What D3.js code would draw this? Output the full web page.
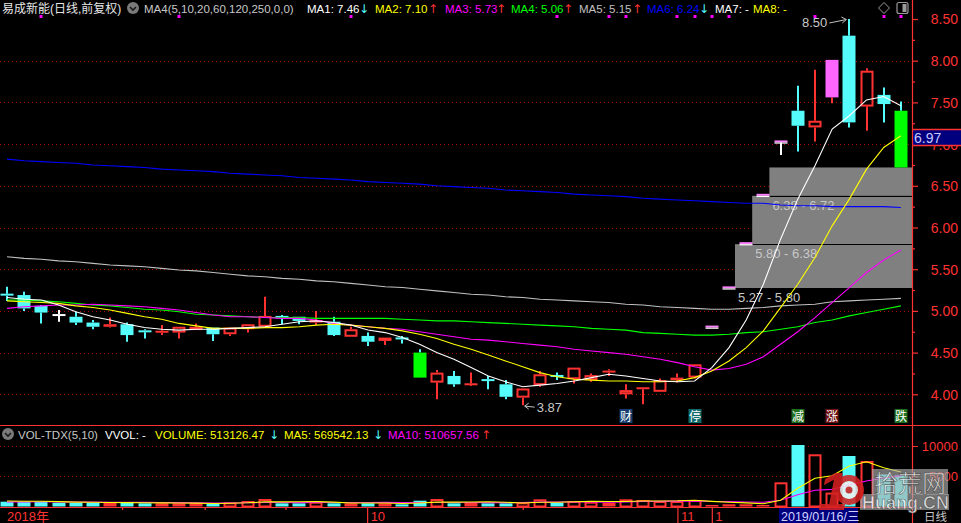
<!DOCTYPE html>
<html><head><meta charset="utf-8">
<script src="https://cdn.jsdelivr.net/npm/d3@7"></script>
<style>html,body{margin:0;padding:0;background:#000;overflow:hidden}svg{display:block}</style>
</head><body><svg id="c" width="961" height="523"></svg>
<script>
// ---------------- DATA ----------------
const stockName = "易成新能(日线,前复权)";
const indicatorName = "MA4(5,10,20,60,120,250,0,0)";
const open  = [5.20,5.19,5.06,4.95,4.93,4.86,4.81,4.84,4.76,4.74, 4.74,4.77,4.80,4.72,4.78,4.81,4.94,4.93,4.86,4.87, 4.69,4.70,4.64,4.675,4.50,4.14,4.22,4.11,4.175,4.12, 3.96,4.11,4.225,4.18,4.17,4.265,4.00,4.065,4.03,4.17, 4.20,4.80,5.27,5.80,6.38,7.02,7.40,7.20,7.56,8.30, 7.45,7.59,7.40];
const high  = [5.29,5.23,5.07,5.01,4.99,4.89,4.92,4.86,4.78,4.83, 4.81,4.85,4.80,4.80,4.84,5.17,4.95,4.93,5.00,4.93, 4.81,4.74,4.68,4.70,4.54,4.29,4.28,4.26,4.22,4.17, 4.07,4.28,4.26,4.32,4.25,4.30,4.12,4.08,4.19,4.25, 4.36,4.80,5.27,5.80,6.38,7.02,7.70,7.89,8.01,8.50, 7.91,7.68,7.51];
const low   = [5.12,5.00,4.85,4.87,4.83,4.78,4.80,4.63,4.67,4.71, 4.67,4.77,4.64,4.70,4.74,4.80,4.84,4.84,4.83,4.70, 4.69,4.58,4.59,4.61,4.20,3.94,4.09,4.10,4.06,3.94, 3.87,4.09,4.17,4.13,4.15,4.22,3.95,3.88,4.03,4.14, 4.19,4.80,5.27,5.80,6.38,6.87,6.91,7.03,7.49,7.20, 7.16,7.26,6.72];
const close = [5.19,5.03,4.98,4.95,4.86,4.81,4.84,4.71,4.75,4.76, 4.81,4.81,4.72,4.80,4.84,4.94,4.91,4.88,4.89,4.71, 4.78,4.63,4.68,4.665,4.20,4.26,4.12,4.13,4.165,3.97, 4.07,4.24,4.215,4.32,4.23,4.28,4.05,4.08,4.17,4.20, 4.36,4.80,5.27,5.80,6.38,7.02,7.22,7.28,8.01,7.26, 7.88,7.48,6.72];
const limitFlag = ["","","","","","","","","","", "","","","","","","","","","", "","","","","D","","","","","", "","","","","","","","","","", "","U","U","U","U","U","","","U","", "","","D"];
const volume = [793,793,793,628,628,628,628,694,529,529, 529,529,413,694,909,1240,529,529,793,529, 529,529,529,364,959,1240,529,628,529,529, 694,1190,628,909,793,628,1190,1074,909,909, 1074,248,364,364,248,4000,10166,8629,2300,8348, 7521,5300,5131];
const ma1 = [5.16,5.14,5.13,5.07,4.99,4.93,4.89,4.84,4.80,4.78, 4.77,4.78,4.78,4.79,4.80,4.81,4.84,4.87,4.88,4.86, 4.83,4.77,4.74,4.68,4.60,4.50,4.42,4.32,4.22,4.15, 4.09,4.11,4.13,4.16,4.20,4.24,4.22,4.19,4.16,4.15, 4.16,4.32,4.56,4.89,5.32,5.86,6.34,6.74,7.18,7.34, 7.53,7.57,7.46];
const ma2 = [5.12,5.11,5.10,5.09,5.06,5.04,5.01,4.97,4.93,4.90, 4.85,4.82,4.79,4.79,4.79,4.80,4.80,4.81,4.83,4.84, 4.83,4.81,4.79,4.76,4.72,4.67,4.60,4.54,4.47,4.40, 4.33,4.26,4.21,4.18,4.17,4.16,4.16,4.15,4.15,4.16, 4.20,4.28,4.40,4.56,4.76,5.04,5.32,5.64,6.02,6.34, 6.70,6.96,7.10];
const ma3 = [5.03,5.05,5.06,5.07,5.07,5.08,5.07,5.06,5.05,5.03, 5.01,4.98,4.95,4.93,4.93,4.92,4.91,4.91,4.89,4.85, 4.83,4.81,4.79,4.78,4.75,4.72,4.69,4.66,4.65,4.63, 4.61,4.59,4.57,4.54,4.52,4.50,4.48,4.45,4.42,4.38, 4.33,4.29,4.31,4.36,4.45,4.60,4.75,4.92,5.10,5.28, 5.46,5.61,5.73];
const ma4 = [5.13,5.13,5.12,5.11,5.09,5.07,5.06,5.04,5.02,5.01, 4.99,4.96,4.95,4.94,4.93,4.92,4.92,4.92,4.91,4.91, 4.91,4.91,4.91,4.90,4.89,4.88,4.88,4.87,4.86,4.85, 4.84,4.83,4.82,4.81,4.79,4.78,4.77,4.74,4.73,4.72, 4.71,4.71,4.72,4.74,4.75,4.78,4.81,4.86,4.89,4.94, 4.98,5.02,5.06];
const ma5 = [5.65,5.63,5.62,5.60,5.59,5.57,5.55,5.54,5.53,5.51, 5.49,5.48,5.46,5.44,5.42,5.41,5.39,5.38,5.36,5.35, 5.33,5.31,5.29,5.28,5.26,5.24,5.22,5.20,5.19,5.17, 5.16,5.14,5.13,5.12,5.11,5.10,5.08,5.07,5.05,5.04, 5.03,5.02,5.02,5.03,5.04,5.06,5.07,5.08,5.11,5.12, 5.13,5.14,5.15];
const ma6 = [6.82,6.80,6.79,6.78,6.77,6.75,6.74,6.73,6.72,6.70, 6.69,6.68,6.67,6.65,6.64,6.63,6.62,6.60,6.59,6.58, 6.57,6.55,6.54,6.53,6.52,6.50,6.49,6.48,6.47,6.45, 6.44,6.43,6.42,6.40,6.39,6.38,6.37,6.35,6.34,6.33, 6.32,6.31,6.30,6.29,6.29,6.27,6.26,6.26,6.25,6.25, 6.25,6.25,6.24];
const volMa5 = [900,880,860,800,727,694,661,641,621,602, 582,562,506,539,615,757,757,780,800,724, 582,582,582,496,582,724,724,744,777,691, 582,714,714,790,843,830,830,919,919,942, 1031,843,701,592,460,1045,3028,4681,5069,6689, 7393,6420,5695];
const volMa10 = [760,770,780,760,740,720,700,690,680,664, 638,612,574,580,608,669,660,643,669,669, 669,669,681,648,653,653,653,663,637,637, 653,719,729,784,767,706,772,816,854,892, 930,836,810,755,701,1038,1936,2691,2830,3574, 4219,4724,5107];
const volHeaderValues = [513126.47, 569542.13, 510657.56];
const volHeaderUp = [false, false, true];
const priceTicks = [8.5,8.0,7.5,7.0,6.5,6.0,5.5,5.0,4.5,4.0];
const priceMinorTicks = [8.25,7.75,7.25,6.75,6.25,5.75,5.25,4.75,4.25];
const volTicks = [10000,5000];
const gapLow = [5.27,5.80,6.38];
const gapHigh = [5.80,6.38,6.72];
const gapStart = [42,43,44];
const eventIdx = [36,40,46,48,52];
const eventText = ["财","停","减","涨","跌"];
const eventBg = ["#163d6e","#0f6b6b","#1e6e1e","#6e1010","#1e6e1e"];
const markerIdx = [2,10,20,32,35,36,39,40,41,42,47,51,52];
const shortTickIdx = [6.7,11.5,16.2,30];
const monthTickIdx = [20.95,39,41];
const monthLabels = ["10","11","1"];
const yearLabel = "2018年";
const cursorDate = "2019/01/16/三";
const curPrice = 6.97;
const periodLabel = "日线";

// ---------------- SETUP ----------------
const RED = "#ff3232", CYAN = "#54fcfc", GRID = "#a00000";
const FONT = "'Liberation Sans','Noto Sans CJK SC',Arial,sans-serif";
const HF = 11.5;
const svg = d3.select("#c");
svg.append("rect").attr("width",961).attr("height",523).attr("fill","#000");
const N = close.length;
const x = d3.scaleLinear().domain([0, N-1]).range([7, 900.9]);
const y = d3.scaleLinear().domain([4, 8.5]).range([394.3, 19]);
const yv = d3.scaleLinear().domain([0, 10000]).range([506.5, 446]);
const AXX = 912;

function txt(g, tx, ty, s, col, size, anchor, fam) {
  return g.append("text").attr("x",tx).attr("y",ty).text(s)
    .attr("fill",col).attr("font-size",size||12).attr("font-family",fam||FONT)
    .attr("text-anchor",anchor||"start");
}

// grid
const gGrid = svg.append("g");
gGrid.selectAll("line.pg").data(priceTicks.filter(d=>d<8.5)).enter().append("line")
  .attr("x1",0).attr("x2",AXX).attr("y1",d=>Math.round(y(d))+0.5).attr("y2",d=>Math.round(y(d))+0.5)
  .attr("stroke",GRID).attr("stroke-dasharray","1,3");
gGrid.selectAll("line.vg").data(volTicks).enter().append("line")
  .attr("x1",0).attr("x2",AXX).attr("y1",d=>Math.round(yv(d))+0.5).attr("y2",d=>Math.round(yv(d))+0.5)
  .attr("stroke",GRID).attr("stroke-dasharray","1,3");

// gap boxes
const gGap = svg.append("g");
gapLow.forEach((lo,k)=>{
  const x0 = x(gapStart[k]) + 6;
  gGap.append("rect").attr("x",x0).attr("y",y(gapHigh[k])).attr("width",AXX-x0)
    .attr("height",y(lo)-y(gapHigh[k])).attr("fill","#808080");
  gGap.append("line").attr("x1",x0).attr("x2",AXX).attr("y1",Math.round(y(lo))+0.5).attr("y2",Math.round(y(lo))+0.5)
    .attr("stroke","#000").attr("stroke-width",1.2);
});
gapLow.forEach((lo,k)=>{
  const x0 = x(gapStart[k]) + 6;
  txt(gGap, x0+3, y(lo)+14, lo.toFixed(2)+" - "+gapHigh[k].toFixed(2), "#c8c8c8", 13);
});

// candles
const gC = svg.append("g");
function vline(g, cx, y1, y2, col) {
  if (Math.abs(y2-y1) < 0.5) return;
  g.append("line").attr("x1",cx).attr("x2",cx).attr("y1",y1).attr("y2",y2).attr("stroke",col).attr("stroke-width",2);
}
for (let i=0;i<N;i++) {
  const o=open[i],h=high[i],l=low[i],c=close[i],f=limitFlag[i];
  const cx = Math.round(x(i)), hw = 6.5;
  const yo=y(o), yc=y(c), yh=y(h), yl=y(l);
  if (f==="U" && o===c) {
    vline(gC, cx, yc, yl, "#ffffff");
    gC.append("rect").attr("x",cx-hw).attr("y",yc-2).attr("width",hw*2).attr("height",2).attr("fill","#ff80ff");
    gC.append("rect").attr("x",cx-hw).attr("y",yc).attr("width",hw*2).attr("height",1.2).attr("fill","#ffffff");
    continue;
  }
  let col, filled, wick;
  if (f==="U") { col="#ff66ff"; filled=true; wick=RED; }
  else if (f==="D") { col="#00ff00"; filled=true; wick=CYAN; }
  else if (c>o) { col=RED; filled=false; wick=RED; }
  else if (c<o) { col=CYAN; filled=true; wick=CYAN; }
  else { col="#ffffff"; filled=true; wick="#ffffff"; }
  let top=Math.min(yo,yc), bot=Math.max(yo,yc);
  if (bot-top < 2) { const m=(top+bot)/2; top=m-1; bot=m+1; }
  vline(gC, cx, yh, top, wick);
  vline(gC, cx, bot, yl, wick);
  if (!filled && bot-top > 4) {
    gC.append("rect").attr("x",cx-hw+1).attr("y",top+1).attr("width",hw*2-2).attr("height",bot-top-2)
      .attr("fill","#000").attr("stroke",col).attr("stroke-width",2);
  } else {
    gC.append("rect").attr("x",cx-hw).attr("y",top).attr("width",hw*2).attr("height",bot-top).attr("fill",col);
  }
}

// moving average lines
const maList = [[ma6,"#0000ff"],[ma5,"#c0c0c0"],[ma4,"#00ff00"],[ma3,"#ff00ff"],[ma2,"#ffff00"],[ma1,"#ffffff"]];
const lineGen = d3.line().x((d,i)=>x(i)).y(d=>y(d));
maList.forEach(([arr,col])=>{
  svg.append("path").attr("d",lineGen(arr)).attr("fill","none").attr("stroke",col).attr("stroke-width",1.1);
});

// high / low annotations
const hiI = d3.maxIndex(high), loI = d3.minIndex(low);
const gA = svg.append("g").attr("stroke","#c0c0c0").attr("fill","none").attr("stroke-width",1);
{
  const hx = x(hiI), hy = y(high[hiI]);
  txt(svg, hx-22, hy+8, high[hiI].toFixed(2), "#c8c8c8", 13, "end");
  gA.append("path").attr("d",`M${hx-20},${hy+4} L${hx-3},${hy+0.5}`);
  gA.append("path").attr("d",`M${hx-8},${hy-2} L${hx-3},${hy+0.5} L${hx-7},${hy+4}`);
  const lx = x(loI), ly = y(low[loI]);
  gA.append("path").attr("d",`M${lx+2},${ly+1} L${lx+12},${ly+2}`);
  gA.append("path").attr("d",`M${lx+6},${ly-2} L${lx+2},${ly+1} L${lx+6},${ly+4}`);
  txt(svg, lx+14, ly+7, low[loI].toFixed(2), "#c8c8c8", 13);
}

// top event markers
svg.selectAll("rect.mk").data(markerIdx).enter().append("rect")
  .attr("x",d=>Math.round(x(d))-1.5).attr("y",15).attr("width",3).attr("height",3).attr("fill","#ff00ff");

// bottom event tags
eventIdx.forEach((idx,k)=>{
  const cx = Math.round(x(idx));
  svg.append("rect").attr("x",cx-6.5).attr("y",409).attr("width",13).attr("height",14).attr("fill",eventBg[k]);
  txt(svg, cx, 421, eventText[k], "#ffffff", 12, "middle", "'Noto Sans CJK SC',sans-serif");
});

// price axis
const gPA = svg.append("g").attr("transform",`translate(${AXX},0)`);
gPA.call(d3.axisRight(y).tickValues(priceTicks).tickSize(6).tickFormat(d3.format(".2f")));
gPA.append("g").call(d3.axisRight(y).tickValues(priceMinorTicks).tickSize(3).tickFormat(""));
gPA.selectAll(".domain").remove();
gPA.selectAll(".tick line").attr("stroke",RED).attr("stroke-width",1.2);
gPA.selectAll(".tick text").attr("fill",RED).attr("font-size",14).attr("font-family",FONT)
  .attr("text-anchor","end").attr("x",46).attr("dy","0.35em");

// current price box
{
  const cy = y(curPrice);
  svg.append("rect").attr("x",AXX).attr("y",cy-17).attr("width",961-AXX).attr("height",16).attr("fill","#00007f");
  svg.append("line").attr("x1",AXX).attr("x2",961).attr("y1",cy-17).attr("y2",cy-17).attr("stroke",RED).attr("stroke-width",1.5);
  svg.append("line").attr("x1",AXX).attr("x2",961).attr("y1",cy-1).attr("y2",cy-1).attr("stroke",RED).attr("stroke-width",1.5);
  txt(svg, AXX+2, cy-4, curPrice.toFixed(2), "#c8c8ff", 14);
}

// panel borders
svg.append("line").attr("x1",AXX+0.5).attr("x2",AXX+0.5).attr("y1",0).attr("y2",523).attr("stroke",RED).attr("stroke-width",1.2);
svg.append("line").attr("x1",0).attr("x2",961).attr("y1",425.5).attr("y2",425.5).attr("stroke",RED).attr("stroke-width",1.2);
svg.append("line").attr("x1",0).attr("x2",AXX).attr("y1",507.5).attr("y2",507.5).attr("stroke",RED).attr("stroke-width",1);

// volume bars
const gV = svg.append("g");
for (let i=0;i<N;i++) {
  const cx = Math.round(x(i)), hw=6.5;
  let up;
  if (close[i]>open[i]) up=true; else if (close[i]<open[i]) up=false; else up = i>0 ? close[i]>=close[i-1] : true;
  const top = yv(volume[i]), base = yv(0);
  if (up) {
    if (base-top > 4) gV.append("rect").attr("x",cx-hw+1).attr("y",top+1).attr("width",hw*2-2).attr("height",base-top-1)
      .attr("fill","#000").attr("stroke",RED).attr("stroke-width",2);
    else gV.append("rect").attr("x",cx-hw).attr("y",top).attr("width",hw*2).attr("height",base-top).attr("fill",RED);
  } else {
    gV.append("rect").attr("x",cx-hw).attr("y",top).attr("width",hw*2).attr("height",base-top).attr("fill",CYAN);
  }
}
const vLine = d3.line().x((d,i)=>x(i)).y(d=>yv(d));
svg.append("path").attr("d",vLine(volMa10)).attr("fill","none").attr("stroke","#ff00ff").attr("stroke-width",1.1);
svg.append("path").attr("d",vLine(volMa5)).attr("fill","none").attr("stroke","#ffff00").attr("stroke-width",1.1);

// volume axis
const gVA = svg.append("g").attr("transform",`translate(${AXX},0)`);
gVA.call(d3.axisRight(yv).tickValues(volTicks).tickSize(6).tickFormat(d3.format("d")));
gVA.selectAll(".domain").remove();
gVA.selectAll(".tick line").attr("stroke",RED);
gVA.selectAll(".tick text").attr("fill",RED).attr("font-size",13).attr("font-family",FONT)
  .attr("text-anchor","end").attr("x",46).attr("dy","0.35em");

// time axis
const gT = svg.append("g").attr("transform","translate(0,507)");
gT.call(d3.axisBottom(x).tickValues(shortTickIdx).tickSize(3).tickFormat(""));
const gT2 = svg.append("g").attr("transform","translate(0,507)");
gT2.call(d3.axisBottom(x).tickValues(monthTickIdx).tickSize(16).tickFormat((d,i)=>monthLabels[i]));
[gT,gT2].forEach(g=>{ g.selectAll(".domain").remove(); g.selectAll(".tick line").attr("stroke",RED).attr("stroke-width",1.2); });
gT2.selectAll(".tick text").attr("fill",RED).attr("font-size",13).attr("font-family",FONT)
  .attr("text-anchor","start").attr("x",3).attr("y",14).attr("dy",0);
txt(svg, 7, 521, yearLabel, RED, 13);
svg.append("rect").attr("x",779).attr("y",508).attr("width",79).attr("height",15).attr("fill","#00007f");
txt(svg, 781, 520.5, cursorDate, "#d0d0ff", 12.5);
txt(svg, 924, 521, periodLabel, "#c8c8c8", 11.5, "start", "'Noto Sans CJK SC',sans-serif");

// header (main)
function circIcon(cx, cy) {
  svg.append("circle").attr("cx",cx).attr("cy",cy).attr("r",6).attr("fill","#7a7a7a");
  svg.append("path").attr("d",`M${cx-3},${cy-1} L${cx},${cy+2} L${cx+3},${cy-1}`).attr("stroke","#1a1a1a").attr("stroke-width",1.6).attr("fill","none");
}
function arrow(ax, ay, up) {
  txt(svg, ax, ay, up ? "↑" : "↓", up ? RED : CYAN, 12, "middle", "'DejaVu Sans',sans-serif");
}
txt(svg, 2, 12.5, stockName, "#e6e6e6", 12);
circIcon(133, 8);
txt(svg, 144, 12.5, indicatorName, "#c8c8c8", HF);
const maNames = ["MA1","MA2","MA3","MA4","MA5","MA6"];
const maArrs = [ma1,ma2,ma3,ma4,ma5,ma6];
const maCols = ["#ffffff","#ffff00","#ff00ff","#00ff00","#c0c0c0","#0000ff"];
const maX = [307,375,445,511,579,647];
const maArrowX = [364,433,501,568,637,704];
maArrs.forEach((arr,k)=>{
  const v = arr[N-1], pv = arr[N-2];
  txt(svg, maX[k], 12.5, `${maNames[k]}: ${v.toFixed(2)}`, maCols[k], HF);
  arrow(maArrowX[k], 12.5, v > pv);
});
txt(svg, 715, 12.5, "MA7: -", "#ffffff", HF);
txt(svg, 753, 12.5, "MA8: -", "#ffff00", HF);
svg.append("path").attr("d","M884,2.5 L889.5,8 L884,13.5 L878.5,8 Z").attr("fill","none").attr("stroke","#9a9a9a").attr("stroke-width",1);
svg.append("rect").attr("x",897).attr("y",2.5).attr("width",11).attr("height",11).attr("rx",2).attr("fill","none").attr("stroke","#9a9a9a").attr("stroke-width",1.2);
svg.append("rect").attr("x",902.5).attr("y",4).attr("width",4).attr("height",8).attr("fill","#9a9a9a");

// header (volume)
circIcon(8, 434);
txt(svg, 18, 438.5, "VOL-TDX(5,10)", "#c8c8c8", HF);
txt(svg, 105, 438.5, "VVOL: -", "#ffffff", HF);
const vNames = ["VOLUME","MA5","MA10"];
const vCols = ["#ffff00","#ffff00","#ff00ff"];
const vX = [155,284,388];
const vArrowX = [274,378,486];
volHeaderValues.forEach((v,k)=>{
  txt(svg, vX[k], 438.5, `${vNames[k]}: ${v.toFixed(2)}`, vCols[k], HF);
  arrow(vArrowX[k], 438.5, volHeaderUp[k]);
});

// watermark
const gW = svg.append("g").attr("opacity",0.88);
gW.append("rect").attr("x",872).attr("y",469).attr("width",76).attr("height",26).attr("fill","rgba(175,175,175,0.75)");
gW.append("rect").attr("x",860).attr("y",494).attr("width",89).attr("height",16).attr("fill","rgba(175,175,175,0.75)");
gW.append("text").attr("x",818).attr("y",510).text("1").attr("fill","#d42020").attr("font-size",54)
  .attr("font-weight","bold").attr("font-style","italic").attr("font-family",FONT);
gW.append("circle").attr("cx",849).attr("cy",490).attr("r",15).attr("fill","#d42020");
gW.append("circle").attr("cx",849).attr("cy",490).attr("r",9).attr("fill","#f0f0f0");
gW.append("circle").attr("cx",849).attr("cy",490).attr("r",3.5).attr("fill","#d42020");
gW.append("text").attr("x",874).attr("y",492).text("拾荒网").attr("fill","#f4f4f4").attr("stroke","#555").attr("stroke-width",0.6)
  .attr("font-size",24).attr("font-family","'Noto Sans CJK SC',sans-serif");
gW.append("text").attr("x",862).attr("y",508.5).text("Huang.CN").attr("fill","#f4f4f4").attr("stroke","#555").attr("stroke-width",0.6)
  .attr("font-size",18).attr("font-weight","bold").attr("font-family",FONT);
</script></body></html>
